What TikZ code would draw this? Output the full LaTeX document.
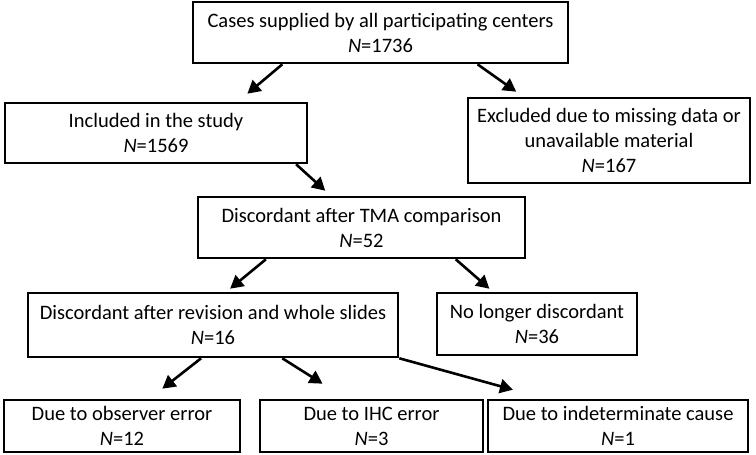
\documentclass[tikz,border=0pt]{standalone}
\usepackage{fontspec}
\setmainfont{Carlito}
\usetikzlibrary{arrows.meta,calc}
\tikzset{
  box/.style={draw, line width=2.6pt, inner sep=0pt, align=center,
    font=\fontsize{20.5}{25}\selectfont},
  arr/.style={line width=2.6pt, -{Triangle[length=13pt,width=14pt]}}
}
\begin{document}
\begin{tikzpicture}[x=1pt,y=1pt]
\useasboundingbox (0,0) rectangle (756,455);
\node[box, minimum width=375pt, minimum height=61pt] (top) at (380.5,422.5) {Cases supplied by all participating centers\\\textit{N}=1736};
\node[box, minimum width=302pt, minimum height=60pt] (inc) at (156,322) {Included in the study\\\textit{N}=1569};
\node[box, minimum width=282pt, minimum height=85pt] (exc) at (609,314.5) {Excluded due to missing data or\\unavailable material\\\textit{N}=167};
\node[box, minimum width=327pt, minimum height=61pt] (tma) at (361.5,227.5) {Discordant after TMA comparison\\\textit{N}=52};
\node[box, minimum width=370pt, minimum height=64pt] (rev) at (213,130) {Discordant after revision and whole slides\\\textit{N}=16};
\node[box, minimum width=200pt, minimum height=62pt] (nol) at (537,131) {No longer discordant\\\textit{N}=36};
\node[box, minimum width=236pt, minimum height=52pt] (obs) at (122,29) {Due to observer error\\\textit{N}=12};
\node[box, minimum width=223pt, minimum height=52pt] (ihc) at (371.5,29) {Due to IHC error\\\textit{N}=3};
\node[box, minimum width=260pt, minimum height=52pt] (ind) at (618,29) {Due to indeterminate cause\\\textit{N}=1};

\draw[arr] ($(top.south west)!0.24!(top.south east)$) -- ($(inc.north west)!0.80!(inc.north east)+(0,8)$);
\draw[arr] ($(top.south west)!0.757!(top.south east)$) -- ($(exc.north west)!0.174!(exc.north east)+(0,5)$);
\draw[arr] ($(inc.south west)!0.96!(inc.south east)$) -- ($(tma.north west)!0.39!(tma.north east)+(0,5)$);
\draw[arr] ($(tma.south west)!0.21!(tma.south east)$) -- ($(rev.north west)!0.546!(rev.north east)+(0,3)$);
\draw[arr] ($(tma.south west)!0.786!(tma.south east)$) -- ($(nol.north west)!0.265!(nol.north east)+(0,3)$);
\draw[arr] ($(rev.south west)!0.468!(rev.south east)$) -- ($(obs.north west)!0.669!(obs.north east)+(0,10)$);
\draw[arr] ($(rev.south west)!0.686!(rev.south east)$) -- ($(ihc.north west)!0.283!(ihc.north east)+(0,15)$);
\draw[arr] (rev.south east) -- ($(ind.north west)!0.1!(ind.north east)+(0,9)$);
\end{tikzpicture}
\end{document}
